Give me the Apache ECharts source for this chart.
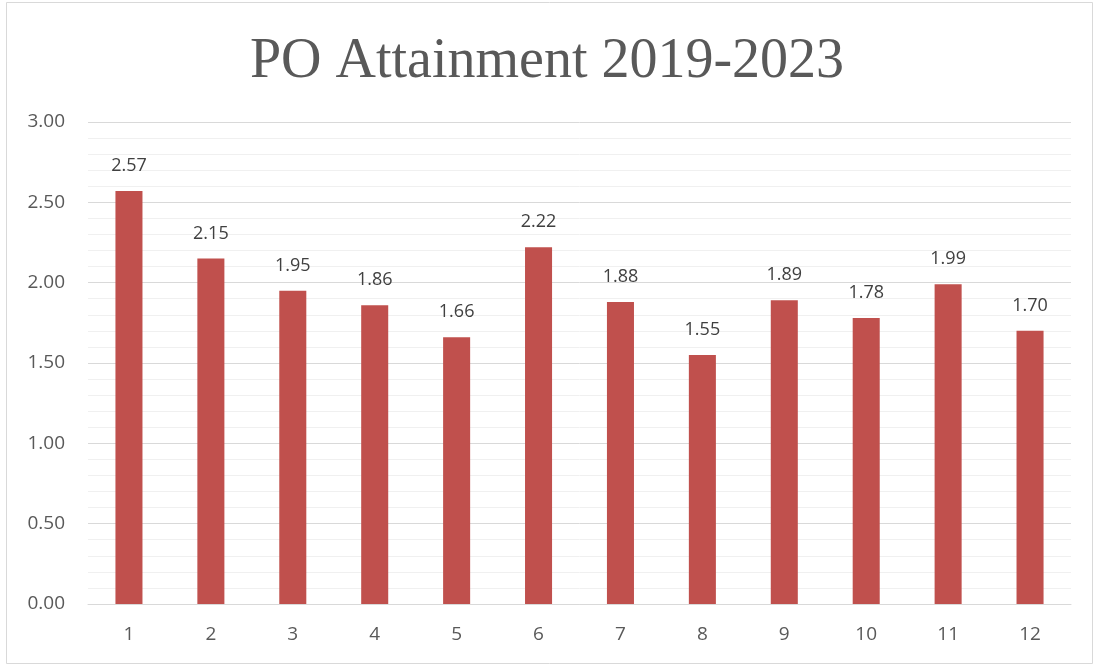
<!DOCTYPE html>
<html><head><meta charset="utf-8">
<script src="https://cdn.jsdelivr.net/npm/echarts@6/dist/echarts.min.js"></script>
<style>html,body{margin:0;padding:0;background:#fff}#c{width:1094px;height:666px}</style>
</head><body><div id="c"></div>
<script>
const categories = ['1','2','3','4','5','6','7','8','9','10','11','12'];
const values = [2.57, 2.15, 1.95, 1.86, 1.66, 2.22, 1.88, 1.55, 1.89, 1.78, 1.99, 1.70];
const titleText = 'PO Attainment 2019-2023';

const chart = echarts.init(document.getElementById('c'), null, {renderer: 'canvas'});
chart.setOption({
  animation: false,
  backgroundColor: '#fff',
  graphic: [{type: 'rect', shape: {x: 6.5, y: 2.5, width: 1086, height: 661}, style: {fill: 'none', stroke: '#d9d9d9', lineWidth: 1}, silent: true}],
  title: {
    text: titleText, left: 'center', top: 29,
    textStyle: {fontFamily: 'Liberation Serif', fontSize: 56, fontWeight: 'normal', color: '#595959'}
  },
  grid: {left: 88, right: 23, top: 122, bottom: 62, containLabel: false},
  xAxis: {
    type: 'category', data: categories,
    axisLine: {lineStyle: {color: '#d9d9d9', width: 1}},
    axisTick: {show: false},
    axisLabel: {color: '#595959', fontSize: 19, fontFamily: 'Open Sans', margin: 21}
  },
  yAxis: {
    type: 'value', min: 0, max: 3, interval: 0.5,
    axisLine: {show: false}, axisTick: {show: false},
    axisLabel: {color: '#595959', fontSize: 19, fontFamily: 'Open Sans', margin: 23, formatter: v => v.toFixed(2)},
    splitLine: {lineStyle: {color: '#d9d9d9', width: 1}},
    minorTick: {show: false, splitNumber: 5},
    minorSplitLine: {show: true, lineStyle: {color: '#f0f0f0', width: 1}}
  },
  series: [{
    type: 'bar', data: values, barWidth: '33%',
    itemStyle: {color: '#C0504D'},
    label: {show: true, position: 'top', distance: 16, color: '#404040', fontSize: 18, fontFamily: 'Open Sans', formatter: p => p.value.toFixed(2)}
  }]
});
</script></body></html>
